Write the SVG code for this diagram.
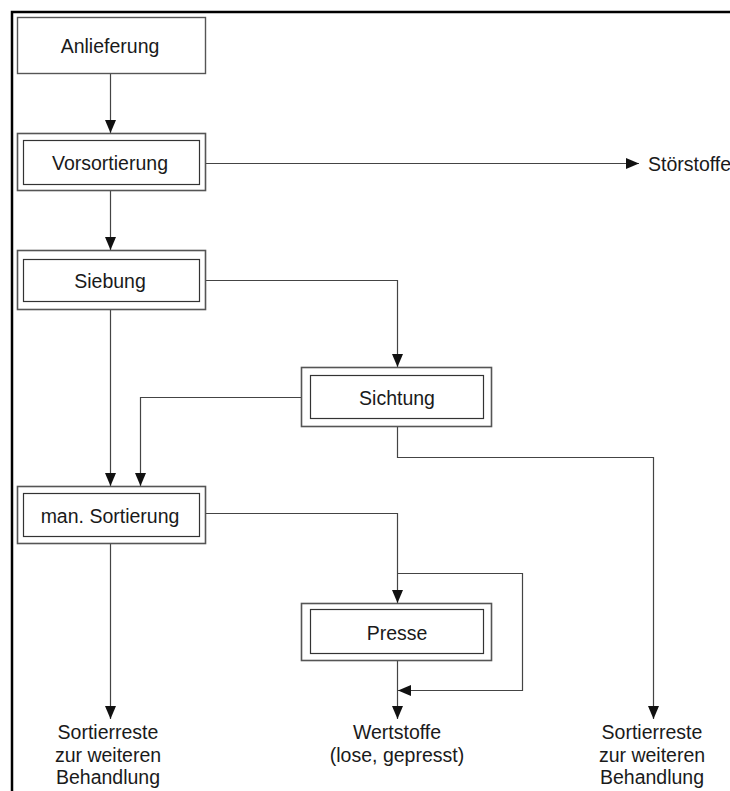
<svg xmlns="http://www.w3.org/2000/svg" width="730" height="791" viewBox="0 0 730 791">
  <style>
    .outer { fill: #ffffff; stroke: #555555; stroke-width: 1.6; }
    .inner { fill: #ffffff; stroke: #333333; stroke-width: 1.2; }
    .single { fill: #ffffff; stroke: #555555; stroke-width: 1.4; }
    .lbl { font-family: "Liberation Sans", Arial, sans-serif; font-size: 19.5px; fill: #1a1a1a; text-anchor: middle; }
    .lbl-l { font-family: "Liberation Sans", Arial, sans-serif; font-size: 19.5px; fill: #1a1a1a; }
    .conn path { fill: none; stroke: #444444; stroke-width: 1.2; marker-end: url(#arrow); }
  </style>
  <defs>
    <marker id="arrow" markerUnits="userSpaceOnUse" markerWidth="14" markerHeight="12" refX="13" refY="5.5" orient="auto">
      <path d="M0,0 L13,5.5 L0,11 z" fill="#111111"/>
    </marker>
  </defs>
  <rect width="730" height="791" fill="#ffffff"/>

  <!-- page frame (right and bottom edges run off the sheet) -->
  <path d="M12,791 V12 H730" fill="none" stroke="#000000" stroke-width="2.5"/>

  <!-- connectors -->
  <g id="connectors" class="conn">
    <path d="M110.5,73 V133"/>
    <path d="M206,163.5 H639"/>
    <path d="M110.5,191 V250"/>
    <path d="M206,280.5 H397.5 V367"/>
    <path d="M110.5,310 V486"/>
    <path d="M301,397.5 H140.5 V486"/>
    <path d="M397.5,427 V457.5 H653.5 V719"/>
    <path d="M206,513.5 H397.5 V603"/>
    <path d="M397.5,573.5 H522.5 V690.5 H398"/>
    <path d="M397.5,661 V719"/>
    <path d="M110.5,544 V719"/>
  </g>

  <g id="anlieferung">
    <rect class="single" x="17.5" y="17.5" width="188" height="56"/>
    <text class="lbl" x="110" y="53">Anlieferung</text>
  </g>

  <g id="vorsortierung">
    <rect class="outer" x="17.5" y="133.5" width="188" height="57"/>
    <rect class="inner" x="23.5" y="140.5" width="176" height="44"/>
    <text class="lbl" x="110" y="169.5">Vorsortierung</text>
  </g>

  <g id="siebung">
    <rect class="outer" x="17.5" y="250.5" width="188" height="59"/>
    <rect class="inner" x="23.5" y="259.5" width="176" height="42"/>
    <text class="lbl" x="110" y="287.5">Siebung</text>
  </g>

  <g id="sichtung">
    <rect class="outer" x="301.5" y="367.5" width="190" height="59"/>
    <rect class="inner" x="310.5" y="375.5" width="173" height="43"/>
    <text class="lbl" x="397" y="404.5">Sichtung</text>
  </g>

  <g id="man-sortierung">
    <rect class="outer" x="17.5" y="486.5" width="188" height="57"/>
    <rect class="inner" x="23.5" y="493.5" width="176" height="43"/>
    <text class="lbl" x="110" y="522.5">man. Sortierung</text>
  </g>

  <g id="presse">
    <rect class="outer" x="301.5" y="603.5" width="190" height="57"/>
    <rect class="inner" x="310.5" y="609.5" width="173" height="44"/>
    <text class="lbl" x="397" y="639.5">Presse</text>
  </g>

  <g id="stoerstoffe">
    <text class="lbl-l" x="648" y="170.5">Störstoffe</text>
  </g>

  <g id="sortierreste-links">
    <text class="lbl" x="108" y="739">Sortierreste</text>
    <text class="lbl" x="108" y="762">zur weiteren</text>
    <text class="lbl" x="108" y="784">Behandlung</text>
  </g>

  <g id="wertstoffe">
    <text class="lbl" x="397" y="739">Wertstoffe</text>
    <text class="lbl" x="397" y="762">(lose, gepresst)</text>
  </g>

  <g id="sortierreste-rechts">
    <text class="lbl" x="652" y="739">Sortierreste</text>
    <text class="lbl" x="652" y="762">zur weiteren</text>
    <text class="lbl" x="652" y="784">Behandlung</text>
  </g>
</svg>
